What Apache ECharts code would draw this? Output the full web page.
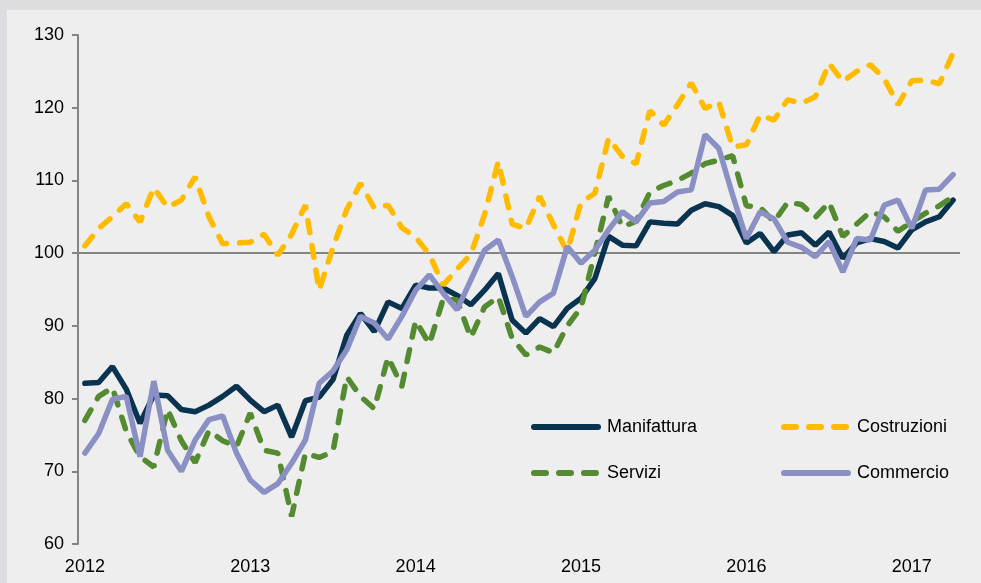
<!DOCTYPE html>
<html>
<head>
<meta charset="utf-8">
<script src="https://cdn.jsdelivr.net/npm/echarts@6/dist/echarts.min.js"></script>
<style>
    html, body { margin: 0; padding: 0; background: #dcdde0; }
    #chart { position: absolute; left: 7px; top: 10px; width: 974px; height: 573px; background: #eeeeee; }
</style>
</head>
<body>
<div id="chart"></div>
<script>
    // months Jan 2012 .. Apr 2017
    var years = ['2012', '2013', '2014', '2015', '2016', '2017'];
    var months = [];
    years.forEach(function (y) {
        for (var m = 1; m <= 12; m++) {
            if (y === '2017' && m > 4) break;
            months.push(y + '-' + (m < 10 ? '0' + m : m));
        }
    });

    var manifattura = [82.1, 82.2, 84.4, 81.3, 76.6, 80.5, 80.4, 78.5, 78.2, 79.1, 80.3, 81.7,
        79.8, 78.2, 79.1, 74.7, 79.7, 80.2, 82.6, 88.7, 91.7, 89.2, 93.3, 92.4,
        95.6, 95.2, 95.2, 94.2, 92.9, 94.9, 97.2, 90.8, 89.0, 91.0, 89.9, 92.4,
        93.8, 96.5, 102.3, 101.1, 101.0, 104.3, 104.1, 104.0, 105.9, 106.8, 106.4, 105.2,
        101.4, 102.7, 100.2, 102.5, 102.8, 101.1, 102.9, 99.3, 101.4, 102.0, 101.6, 100.7,
        103.2, 104.3, 105.0, 107.3];
    var costruzioni = [101.0, 103.4, 105.0, 106.8, 104.3, 109.0, 106.3, 107.3, 110.5, 105.0, 101.3, 101.4,
        101.5, 102.6, 99.7, 102.6, 106.6, 94.9, 100.8, 106.0, 109.6, 106.2, 106.6, 103.5,
        102.2, 99.8, 95.6, 97.8, 99.8, 105.3, 112.6, 104.0, 103.4, 107.8, 103.9, 100.2,
        107.0, 108.2, 115.8, 113.3, 112.3, 119.6, 117.6, 120.4, 123.4, 119.9, 120.8, 114.6,
        114.9, 119.0, 118.3, 121.1, 120.6, 121.5, 126.1, 123.6, 125.0, 125.9, 124.0, 120.4,
        123.7, 123.8, 123.3, 127.5];
    var servizi = [77.0, 80.3, 81.5, 75.5, 72.0, 70.6, 78.5, 74.2, 71.2, 75.6, 74.2, 73.4,
        78.0, 72.9, 72.5, 63.8, 72.5, 71.9, 72.7, 83.0, 80.3, 78.6, 85.7, 81.7,
        90.7, 87.5, 93.7, 93.6, 88.4, 92.6, 94.0, 88.3, 86.0, 87.1, 86.3, 90.0,
        92.5, 100.0, 107.8, 103.6, 104.4, 108.4, 109.3, 110.0, 111.0, 112.3, 112.8, 113.4,
        106.5, 106.3, 104.3, 107.0, 106.7, 104.9, 107.0, 102.3, 104.0, 105.7, 105.0, 103.0,
        104.3, 105.5, 106.5, 107.8];
    var commercio = [72.5, 75.2, 79.9, 80.3, 72.0, 82.4, 72.9, 70.0, 74.3, 77.1, 77.6, 72.5,
        68.8, 67.1, 68.3, 71.1, 74.3, 82.1, 83.8, 86.7, 91.3, 90.4, 88.2, 91.3,
        94.9, 97.0, 94.5, 92.2, 96.3, 100.4, 101.8, 96.8, 91.3, 93.3, 94.5, 100.9,
        98.6, 100.4, 103.2, 105.7, 104.3, 106.9, 107.1, 108.4, 108.7, 116.3, 114.4, 108.0,
        102.0, 105.7, 104.7, 101.5, 100.8, 99.5, 101.6, 97.4, 102.0, 101.8, 106.6, 107.3,
        103.4, 108.7, 108.8, 110.8];

    var names = ['Manifattura', 'Costruzioni', 'Servizi', 'Commercio'];
    var colors = ['#0a3350', '#ffbb00', '#548a30', '#8a8fc4'];

    var chart = echarts.init(document.getElementById('chart'));
    var dash = [12, 13];
    var font = 'Liberation Sans, Arial, sans-serif';

    function line(name, data, color, dashed) {
        return {
            name: name,
            type: 'line',
            data: data,
            symbol: 'none',
            animation: false,
            lineStyle: {
                color: color,
                width: 5.5,
                type: dashed ? dash : 'solid',
                cap: 'round'
            },
            itemStyle: { color: color }
        };
    }

    var series = [
        line(names[0], manifattura, colors[0], false),
        line(names[1], costruzioni, colors[1], true),
        line(names[2], servizi, colors[2], true),
        line(names[3], commercio, colors[3], false)
    ];
    series[0].markLine = {
        silent: true,
        symbol: 'none',
        z: 1,
        label: { show: false },
        lineStyle: { color: '#848484', width: 2, type: 'solid' },
        data: [{ yAxis: 100 }]
    };

    var legendCommon = {
        orient: 'vertical',
        padding: 0,
        itemWidth: 64,
        itemHeight: 14,
        itemGap: 26,
        textStyle: { fontSize: 18, color: '#000', fontFamily: font, lineHeight: 20, padding: [0, 0, 0, 4] },
        itemStyle: { opacity: 0 },
        lineStyle: { width: 6 }
    };

    var option = {
        animation: false,
        legend: [
            Object.assign({ left: 524, top: 407, data: [names[0], names[2]] }, legendCommon),
            Object.assign({ left: 774, top: 407, data: [names[1], names[3]] }, legendCommon)
        ],
        grid: { left: 71, right: 21, top: 25, bottom: 39 },
        xAxis: {
            type: 'category',
            data: months,
            boundaryGap: true,
            axisLine: { show: false },
            axisTick: { show: false },
            axisLabel: {
                interval: function (i) { return i % 12 === 0; },
                formatter: function (v) { return v.slice(0, 4); },
                fontSize: 18,
                color: '#000',
                fontFamily: font,
                margin: 14
            }
        },
        yAxis: {
            type: 'value',
            min: 60,
            max: 130,
            interval: 10,
            axisLine: { show: true, lineStyle: { color: '#848484', width: 2 } },
            axisTick: { show: true, length: 6, lineStyle: { color: '#848484', width: 2 } },
            splitLine: { show: false },
            axisLabel: { fontSize: 18, color: '#000', fontFamily: font, margin: 14 }
        },
        series: series
    };
    chart.setOption(option);
</script>
</body>
</html>
